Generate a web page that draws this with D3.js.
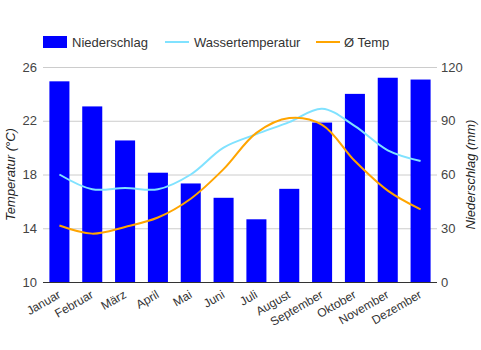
<!DOCTYPE html>
<html>
<head>
<meta charset="utf-8">
<script src="https://cdn.jsdelivr.net/npm/d3@7"></script>
<style>
  body { margin: 0; background: #fff; }
  text { font-family: "Liberation Sans", Arial, sans-serif; }
</style>
</head>
<body>
<svg id="chart" width="481" height="350"></svg>
<script>
var months = ["Januar", "Februar", "März", "April", "Mai", "Juni", "Juli", "August", "September", "Oktober", "November", "Dezember"];
var rain = [112, 98, 79, 61, 55, 47, 35, 52, 89, 105, 114, 113];
var water = [18.0, 16.9, 17.0, 16.9, 18.0, 20.0, 21.0, 21.9, 22.9, 21.6, 19.8, 19.0];
var temp = [14.2, 13.6, 14.1, 14.8, 16.2, 18.4, 21.1, 22.2, 21.7, 19.0, 16.8, 15.4];
var tempTicks = [10, 14, 18, 22, 26];
var rainTicks = [0, 30, 60, 90, 120];

var svg = d3.select("#chart");
var svgSize = { left: 43, right: 437, top: 67, bottom: 282 };

var xScale = d3.scaleBand()
  .domain(months)
  .range([svgSize.left, svgSize.right])
  .paddingInner(0.39)
  .paddingOuter(0.195);

var yTemp = d3.scaleLinear().domain([10, 26]).range([svgSize.bottom, svgSize.top]);
var yRain = d3.scaleLinear().domain([0, 120]).range([svgSize.bottom, svgSize.top]);

// gridlines
svg.append("g")
  .selectAll("line")
  .data(tempTicks)
  .enter()
  .append("line")
  .attr("x1", svgSize.left)
  .attr("x2", svgSize.right)
  .attr("y1", function(d) { return yTemp(d) + 0.5; })
  .attr("y2", function(d) { return yTemp(d) + 0.5; })
  .attr("stroke", "#cccccc");

// bars
svg.append("g")
  .selectAll("rect")
  .data(rain)
  .enter()
  .append("rect")
  .attr("x", function(d, i) { return xScale(months[i]); })
  .attr("y", function(d) { return yRain(d); })
  .attr("width", xScale.bandwidth())
  .attr("height", function(d) { return svgSize.bottom - yRain(d); })
  .attr("fill", "#0000ff");

// baseline
svg.append("line")
  .attr("x1", svgSize.left)
  .attr("x2", svgSize.right)
  .attr("y1", svgSize.bottom + 0.5)
  .attr("y2", svgSize.bottom + 0.5)
  .attr("stroke", "#333333");

var cx = function(d, i) { return xScale(months[i]) + xScale.bandwidth() / 2; };

var tempLine = d3.line().x(cx).y(function(d) { return yTemp(d); }).curve(d3.curveCatmullRom);
svg.append("path")
  .attr("d", tempLine(water))
  .attr("fill", "none")
  .attr("stroke", "#80e2ff")
  .attr("stroke-width", 2);

svg.append("path")
  .attr("d", tempLine(temp))
  .attr("fill", "none")
  .attr("stroke", "#ffa500")
  .attr("stroke-width", 2);

// left axis
var leftAxis = svg.append("g")
  .attr("transform", "translate(" + svgSize.left + ",0)")
  .call(d3.axisLeft(yTemp).tickValues(tempTicks).tickSize(0).tickPadding(6));
leftAxis.select(".domain").remove();
leftAxis.selectAll("text")
  .attr("fill", "#444444")
  .style("font-size", "13px")
  .style("font-family", "'Liberation Sans', Arial, sans-serif");

// right axis
var rightAxis = svg.append("g")
  .attr("transform", "translate(" + svgSize.right + ",0)")
  .call(d3.axisRight(yRain).tickValues(rainTicks).tickSize(0).tickPadding(4));
rightAxis.select(".domain").remove();
rightAxis.selectAll("text")
  .attr("fill", "#444444")
  .style("font-size", "13px")
  .style("font-family", "'Liberation Sans', Arial, sans-serif");

// x labels
svg.append("g")
  .selectAll("text")
  .data(months)
  .enter()
  .append("text")
  .attr("transform", function(d) {
    return "translate(" + (xScale(d) + xScale.bandwidth() / 2 + 2) + "," + (svgSize.bottom + 15) + ") rotate(-30)";
  })
  .style("text-anchor", "end")
  .style("font-size", "12px")
  .attr("fill", "#333333")
  .text(function(d) { return d; });

// axis titles
svg.append("text")
  .attr("transform", "translate(15," + ((svgSize.top + svgSize.bottom) / 2) + ") rotate(-90)")
  .style("text-anchor", "middle")
  .style("font-size", "13px")
  .style("font-style", "italic")
  .attr("fill", "#222222")
  .text("Temperatur (°C)");

svg.append("text")
  .attr("transform", "translate(475," + ((svgSize.top + svgSize.bottom) / 2) + ") rotate(-90)")
  .style("text-anchor", "middle")
  .style("font-size", "13px")
  .style("font-style", "italic")
  .attr("fill", "#222222")
  .text("Niederschlag (mm)");

// legend
var legend = svg.append("g");
legend.append("rect")
  .attr("x", 43).attr("y", 36).attr("width", 24).attr("height", 12)
  .attr("fill", "#0000ff");
legend.append("text").attr("x", 72).attr("y", 46.5).text("Niederschlag");
legend.append("line")
  .attr("x1", 165).attr("x2", 189).attr("y1", 42).attr("y2", 42)
  .attr("stroke", "#80e2ff").attr("stroke-width", 2);
legend.append("text").attr("x", 194).attr("y", 46.5).text("Wassertemperatur");
legend.append("line")
  .attr("x1", 316).attr("x2", 340).attr("y1", 42).attr("y2", 42)
  .attr("stroke", "#ffa500").attr("stroke-width", 2);
legend.append("text").attr("x", 344).attr("y", 46.5).text("Ø Temp");
legend.selectAll("text")
  .style("font-size", "13px")
  .attr("fill", "#333333");
</script>
</body>
</html>
